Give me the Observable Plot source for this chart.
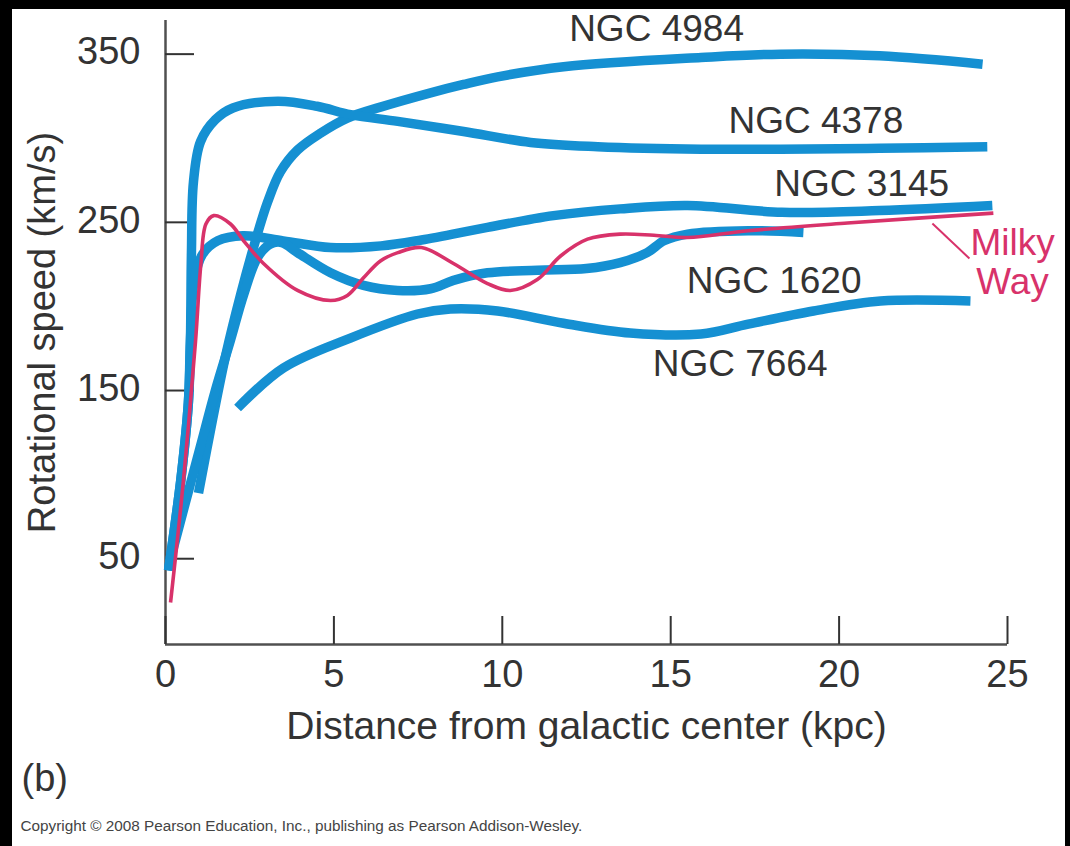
<!DOCTYPE html>
<html>
<head>
<meta charset="utf-8">
<script src="https://cdn.jsdelivr.net/npm/d3@7"></script>
<script src="https://cdn.jsdelivr.net/npm/@observablehq/plot@0.6"></script>
<style>
  html, body { margin: 0; padding: 0; background: #000; width: 1070px; height: 846px; overflow: hidden; }
  #panel { position: absolute; left: 12px; top: 9px; width: 1053px; height: 837px; background: #fff; }
  #chart { position: absolute; left: 0; top: 0; }
</style>
</head>
<body>
<div id="panel"></div>
<div id="chart"></div>
<script>
// ---- data (distance in kpc, rotational speed in km/s) ----
const xTicks = [0, 5, 10, 15, 20, 25];
const yTicks = [50, 150, 250, 350];

const ngc4984X = [0.98, 1.4, 1.8, 2.23, 2.67, 3.03, 3.41, 3.92, 4.6, 5.4, 6.38, 7.87, 8.85, 9.86, 11.82, 15.9, 18.26, 21.2, 24.26];
const ngc4984V = [89, 133, 172, 207, 239, 262, 280, 293, 303, 312, 318.5, 327, 332, 336.5, 342.5, 348, 350, 349, 344];

const ngc4378X = [0.09, 0.45, 0.68, 0.74, 0.77, 0.83, 1.04, 1.48, 2.0, 3.33, 4.5, 5.5, 6.9, 8.85, 10.84, 12.83, 15.9, 18.26, 21.2, 24.4];
const ngc4378V = [43, 96, 143, 179, 232, 274, 298, 311, 318, 322, 319, 314, 310, 304, 297.5, 295, 293.5, 293.5, 294, 295];

const ngc3145X = [0.09, 0.45, 0.68, 0.74, 0.85, 1.1, 1.55, 2.3, 3.5, 4.9, 6.4, 7.6, 9.56, 11.52, 13.5, 15.5, 18.3, 21.2, 24.55];
const ngc3145V = [43, 96, 143, 179, 215, 231, 239, 242, 239, 235, 236, 239.5, 247, 254, 258, 260, 256, 257, 260];

const ngc1620X = [0.15, 0.6, 1.04, 1.48, 1.93, 2.32, 2.73, 3.1, 3.45, 3.92, 4.9, 5.88, 6.89, 7.87, 8.55, 9.56, 11.04, 12.5, 13.5, 14.3, 14.8, 15.5, 17.3, 18.94];
const ngc1620V = [50, 84, 117, 150, 180, 207, 229, 237, 238, 232, 220, 212.5, 209.5, 210.5, 215.5, 220, 221.5, 222.5, 226, 232, 239, 243, 245, 244];

const ngc7664X = [2.14, 3.5, 5.49, 7.48, 8.46, 9.86, 11.82, 13.8, 15.9, 17.3, 19.24, 21.23, 23.9];
const ngc7664V = [139.6, 163.4, 181.2, 195.5, 198.5, 197.3, 190, 184.2, 183.6, 189.5, 197.3, 203.2, 203.2];

const milkyX = [0.15, 0.53, 0.89, 1.05, 1.2, 1.43, 1.93, 2.32, 2.91, 3.92, 4.9, 5.4, 5.88, 6.38, 6.9, 7.6, 8.55, 9.56, 10.24, 11.04, 11.73, 12.53, 13.5, 14.5, 15.5, 17.3, 20.25, 24.58];
const milkyV = [24, 96, 179, 225, 249, 254, 249, 239, 225.5, 209.5, 203.5, 206.5, 217, 227, 232, 235, 225.5, 213.6, 209.5, 216, 230, 240, 243, 242.3, 241, 245, 249.6, 255.5];

const labelText = ["NGC 4984", "NGC 4378", "NGC 3145", "NGC 1620", "NGC 7664", "Milky\nWay"];
const labelX = [14.58, 19.31, 20.67, 18.07, 17.06, 25.15];
const labelV = [365, 310.5, 272.8, 215.4, 165.8, 226.4];
const labelKind = ["galaxy", "galaxy", "galaxy", "galaxy", "galaxy", "milky"];

const leaderX = [22.77, 23.87];
const leaderV = [249.3, 228.5];

// ---- build tables ----
const blueSeries = [
  ["NGC 4984", ngc4984X, ngc4984V],
  ["NGC 4378", ngc4378X, ngc4378V],
  ["NGC 3145", ngc3145X, ngc3145V],
  ["NGC 1620", ngc1620X, ngc1620V],
  ["NGC 7664", ngc7664X, ngc7664V]
];
const blueRows = blueSeries.flatMap(([name, xs, vs]) => xs.map((x, i) => ({name, x, v: vs[i]})));
const milkyRows = milkyX.map((x, i) => ({name: "Milky Way", x, v: milkyV[i]}));
const labels = labelText.map((t, i) => ({t, x: labelX[i], v: labelV[i], kind: labelKind[i]}));
const leader = [{x1: leaderX[0], y1: leaderV[0], x2: leaderX[1], y2: leaderV[1]}];

const BLUE = "#1590d2";
const PINK = "#d8326a";
const INK = "#333333";
const W = 1070, H = 846;
const mL = 165, mR = 63, mT = 20, mB = 202;
const frameW = W - mL - mR, frameH = H - mT - mB;

const chart = Plot.plot({
  width: W,
  height: H,
  marginLeft: mL,
  marginRight: mR,
  marginTop: mT,
  marginBottom: mB,
  style: {background: "transparent", fontFamily: "'Liberation Sans', Arial, Helvetica, sans-serif", overflow: "visible"},
  x: {domain: [0, 25], axis: null},
  y: {domain: [-1, 370], axis: null},
  marks: [
    // axis lines
    Plot.ruleX([0], {stroke: "#505050", strokeWidth: 2.5}),
    Plot.ruleY([-1], {stroke: "#505050", strokeWidth: 2.5}),
    // ticks (pointing into the plot)
    Plot.ruleX(xTicks, {x: d => d, insetTop: frameH - 28, stroke: "#333", strokeWidth: 2}),
    Plot.ruleY(yTicks, {y: d => d, insetRight: frameW - 29, stroke: "#333", strokeWidth: 2}),
    // tick labels
    Plot.text(xTicks, {x: d => d, frameAnchor: "bottom", dy: 42, text: d => String(d), fontSize: 38, fill: INK}),
    Plot.text(yTicks, {y: d => d, frameAnchor: "left", dx: -25, dy: -2, textAnchor: "end", text: d => String(d), fontSize: 38, fill: INK}),
    // axis titles
    Plot.text(["Distance from galactic center (kpc)"], {frameAnchor: "bottom", dy: 94, textAnchor: "middle", text: d => d, fontSize: 39, fill: INK}),
    Plot.text(["Rotational speed (km/s)"], {frameAnchor: "left", dx: -123, rotate: -90, textAnchor: "middle", text: d => d, fontSize: 38, fill: INK}),
    // panel caption and credit
    Plot.text(["(b)"], {frameAnchor: "bottom-left", dx: -144, dy: 146, textAnchor: "start", text: d => d, fontSize: 38, fill: INK}),
    Plot.text(["Copyright \u00A9 2008 Pearson Education, Inc., publishing as Pearson Addison-Wesley."], {frameAnchor: "bottom-left", dx: -145, dy: 186, textAnchor: "start", text: d => d, fontSize: 15.3, fill: "#444"}),
    // curves
    Plot.line(blueRows, {x: "x", y: "v", z: "name", stroke: BLUE, strokeWidth: 9.5, curve: "catmull-rom", strokeLinecap: "butt", strokeLinejoin: "round"}),
    Plot.line(milkyRows, {x: "x", y: "v", stroke: PINK, strokeWidth: 3.6, curve: "catmull-rom", strokeLinecap: "butt", strokeLinejoin: "round"}),
    // labels
    Plot.link(leader, {x1: "x1", y1: "y1", x2: "x2", y2: "y2", stroke: PINK, strokeWidth: 2}),
    Plot.text(labels, {x: "x", y: "v", text: "t", fontSize: 37, lineHeight: 1.05, fill: d => d.kind === "milky" ? PINK : INK})
  ]
});
document.getElementById("chart").appendChild(chart);
</script>
</body>
</html>
